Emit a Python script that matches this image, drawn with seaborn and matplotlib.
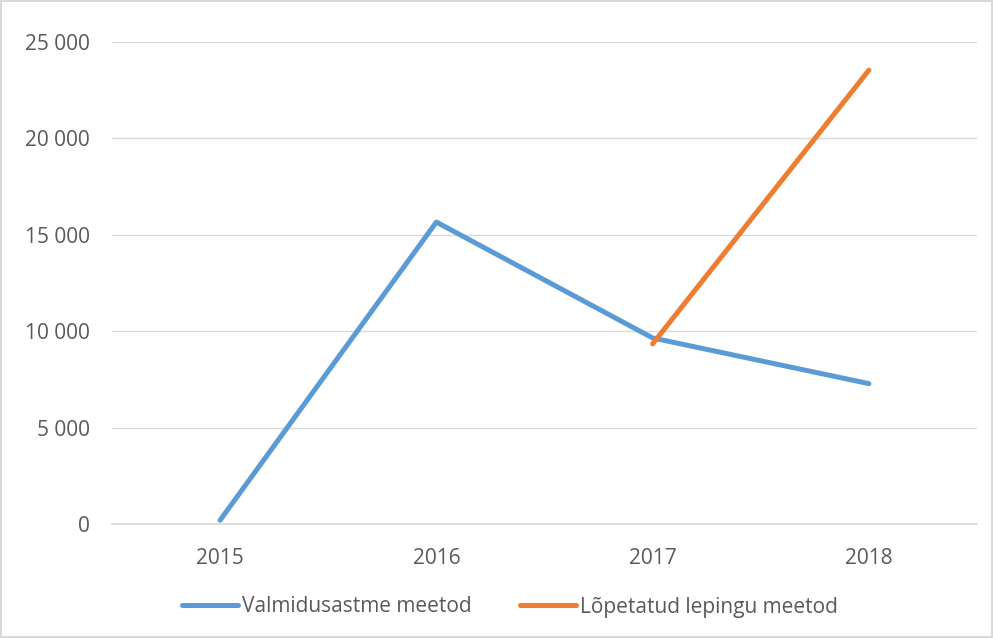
import matplotlib
matplotlib.use("Agg")
import matplotlib.pyplot as plt
import seaborn as sns
import pandas as pd
import numpy as np
from matplotlib.ticker import FuncFormatter

years = ["2015", "2016", "2017", "2018"]
valmidus = [200, 15660, 9650, 7280]
lopetatud = [np.nan, np.nan, 9340, 23540]
series_names = ["Valmidusastme meetod", "Lõpetatud lepingu meetod"]
yticks = [0, 5000, 10000, 15000, 20000, 25000]

df = pd.DataFrame({
    "year": years * 2,
    "value": valmidus + lopetatud,
    "series": [series_names[0]] * 4 + [series_names[1]] * 4,
})
df["x"] = df["year"].map({y: i for i, y in enumerate(years)})

sns.set_theme(style="white")
plt.rcParams["font.family"] = ["Open Sans", "DejaVu Sans"]

FS = 15
fig = plt.figure(figsize=(9.93, 6.38), dpi=100)
fig.patch.set_edgecolor("#D9D9D9")
fig.patch.set_linewidth(1.5)
ax = fig.add_axes([112/993, 1 - 524/638, (977-112)/993, (524-42)/638])

sns.lineplot(data=df, x="x", y="value", hue="series", hue_order=series_names,
             palette=["#5B9BD5", "#ED7D31"], linewidth=3.6, ax=ax,
             solid_capstyle="round", legend=True)

ax.set_xlim(-0.5, 3.5)
ax.set_ylim(0, 25000)
ax.set_xticks(range(len(years)))
ax.set_xticklabels(years)
ax.set_yticks(yticks)
ax.yaxis.set_major_formatter(FuncFormatter(lambda v, p: f"{int(v):,}".replace(",", " ")))
ax.grid(axis="y", color="#D9D9D9", linewidth=1)
ax.set_axisbelow(True)
for s in ["top", "right", "left"]:
    ax.spines[s].set_visible(False)
ax.spines["bottom"].set_color("#D9D9D9")
ax.tick_params(axis="both", length=0, labelsize=FS, colors="#595959")
ax.tick_params(axis="y", pad=16)
ax.tick_params(axis="x", pad=17)
ax.set_xlabel("")
ax.set_ylabel("")

handles, labels = ax.get_legend_handles_labels()
ax.legend(handles, labels, loc="center", bbox_to_anchor=(510/993, 1 - 607/638),
          bbox_transform=fig.transFigure, ncol=2, frameon=False,
          fontsize=FS, labelcolor="#595959", handlelength=2.7,
          columnspacing=2.3, handletextpad=0.2)

fig.savefig("out.png", dpi=100)
